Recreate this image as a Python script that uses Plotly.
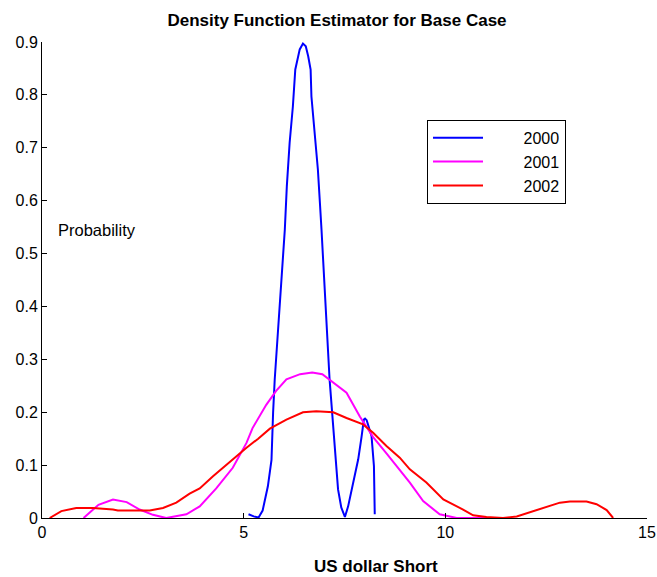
import plotly.graph_objects as go

# Kernel density estimates of the US dollar short position, one curve per year
x_2000 = [5.12, 5.25, 5.37, 5.47, 5.60, 5.69, 5.73, 5.77, 6.02, 6.07, 6.14, 6.22, 6.28,
          6.33, 6.39, 6.47, 6.54, 6.60, 6.66, 6.68, 6.76, 6.84, 6.89, 6.93, 7.13, 7.26,
          7.34, 7.42, 7.51, 7.59, 7.71, 7.84, 7.92, 7.98, 8.01, 8.05, 8.17, 8.23, 8.25]
y_2000 = [0.007, 0.003, 0.001, 0.014, 0.060, 0.110, 0.200, 0.262, 0.545, 0.627, 0.710,
          0.778, 0.848, 0.867, 0.886, 0.897, 0.892, 0.873, 0.848, 0.797, 0.734, 0.659,
          0.596, 0.545, 0.262, 0.136, 0.054, 0.020, 0.002, 0.022, 0.067, 0.111, 0.152,
          0.186, 0.188, 0.185, 0.155, 0.098, 0.007]

x_2001 = [1.03, 1.40, 1.76, 2.10, 2.42, 2.75, 3.08, 3.58, 3.91, 4.32, 4.73, 5.07, 5.22,
          5.56, 5.80, 6.06, 6.40, 6.70, 6.95, 7.13, 7.55, 7.88, 8.21, 8.54, 8.79, 9.12,
          9.45, 9.86, 10.28, 11.02]
y_2001 = [0.000, 0.025, 0.035, 0.030, 0.016, 0.006, 0.000, 0.007, 0.022, 0.056, 0.095,
          0.142, 0.170, 0.214, 0.240, 0.262, 0.272, 0.275, 0.272, 0.262, 0.237, 0.192,
          0.153, 0.122, 0.098, 0.067, 0.032, 0.007, 0.000, 0.000]

x_2002 = [0.19, 0.48, 0.85, 1.26, 1.76, 1.88, 2.25, 2.67, 3.00, 3.33, 3.66, 3.91, 4.24,
          4.73, 5.07, 5.36, 5.65, 6.06, 6.47, 6.80, 7.22, 7.55, 7.96, 8.21, 8.54, 8.87,
          9.12, 9.53, 9.95, 10.44, 10.69, 11.02, 11.43, 11.77, 12.10, 12.43, 12.84,
          13.09, 13.50, 13.75, 14.00, 14.16]
y_2002 = [0.000, 0.013, 0.019, 0.019, 0.016, 0.014, 0.014, 0.014, 0.019, 0.029, 0.046,
          0.056, 0.079, 0.111, 0.133, 0.150, 0.169, 0.186, 0.200, 0.202, 0.200, 0.189,
          0.177, 0.161, 0.136, 0.114, 0.092, 0.067, 0.035, 0.016, 0.005, 0.002, 0.000,
          0.003, 0.011, 0.019, 0.029, 0.031, 0.031, 0.026, 0.015, 0.000]

years = ["2000", "2001", "2002"]
colors = ["#0000ff", "#ff00ff", "#ff0000"]

FONT = "Liberation Sans, Arial, sans-serif"
NBSP = "\u00a0"

fig = go.Figure()
for name, xs, ys, c in zip(years, [x_2000, x_2001, x_2002],
                           [y_2000, y_2001, y_2002], colors):
    fig.add_trace(go.Scatter(x=xs, y=ys, mode="lines", name=NBSP * 8 + name,
                             line=dict(color=c, width=2)))

axis_common = dict(showline=True, linecolor="black", linewidth=1, ticks="inside",
                   ticklen=5, tickcolor="black", showgrid=False, zeroline=False,
                   automargin=False,
                   tickfont=dict(family=FONT, size=16, color="black"))

PLOT_W = 657 - 42 - 10
PLOT_H = 577 - 42 - 58.5

fig.update_layout(
    width=657, height=577,
    margin=dict(l=42, r=10, t=42, b=58.5),
    paper_bgcolor="white", plot_bgcolor="white",
    font=dict(family=FONT, color="black"),
    title=dict(text="<b>Density Function Estimator for Base Case</b>",
               x=337 / 657, xref="container", xanchor="center",
               y=1 - 20 / 577, yref="container", yanchor="middle",
               font=dict(family=FONT, size=17, color="black")),
    xaxis=dict(range=[0, 15], tickvals=[0, 5, 10, 15], **axis_common),
    yaxis=dict(range=[0, 0.9], tickvals=[0, 0.1, 0.2, 0.3, 0.4, 0.5, 0.6, 0.7, 0.8, 0.9],
               ticktext=["0", "0.1", "0.2", "0.3", "0.4", "0.5", "0.6", "0.7", "0.8", "0.9"],
               **axis_common),
    showlegend=True,
    legend=dict(x=(427 - 42) / PLOT_W, y=(518.5 - 120) / PLOT_H,
                xanchor="left", yanchor="top",
                bgcolor="white", bordercolor="black", borderwidth=1,
                font=dict(family=FONT, size=16, color="black"),
                itemwidth=50, tracegroupgap=0),
    annotations=[
        dict(text="Probability", x=(56 - 42) / PLOT_W, y=(518.5 - 230) / PLOT_H,
             xref="paper", yref="paper", xanchor="left", yanchor="middle",
             showarrow=False, font=dict(family=FONT, size=16.5, color="black")),
        dict(text="<b>US dollar Short</b>", x=(376 - 42) / PLOT_W,
             y=-(567 - 518.5) / PLOT_H,
             xref="paper", yref="paper", xanchor="center", yanchor="middle",
             showarrow=False, font=dict(family=FONT, size=17, color="black")),
    ],
)

fig.write_html("out.html")
